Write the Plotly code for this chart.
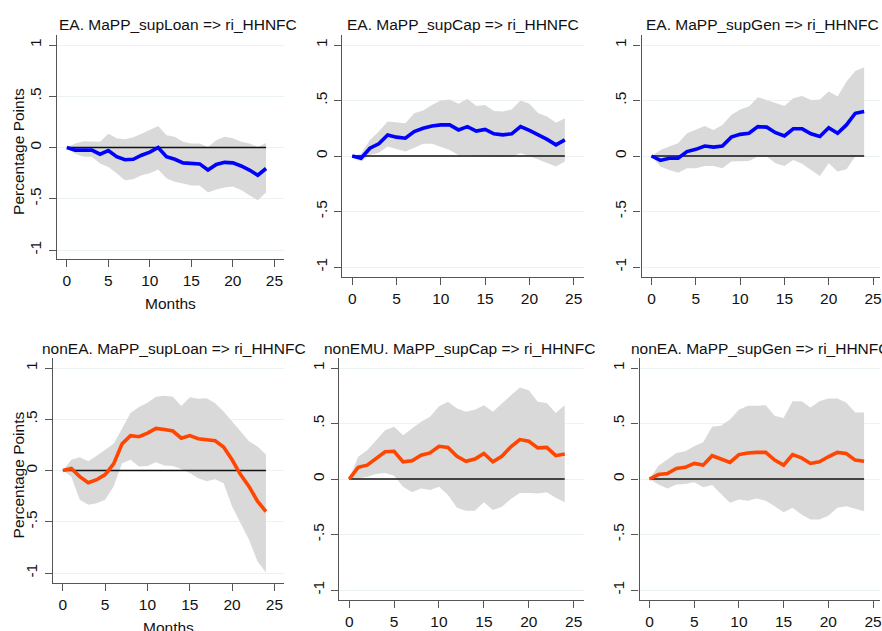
import plotly.graph_objects as go

# ---------------- data ----------------
months = list(range(25))

x_ticks = [0, 5, 10, 15, 20, 25]
y_ticks = [-1, -0.5, 0, 0.5, 1]
y_tick_labels = ["-1", "-.5", "0", ".5", "1"]

titles = [
    "EA. MaPP_supLoan => ri_HHNFC",
    "EA. MaPP_supCap => ri_HHNFC",
    "EA. MaPP_supGen => ri_HHNFC",
    "nonEA. MaPP_supLoan => ri_HHNFC",
    "nonEMU. MaPP_supCap => ri_HHNFC",
    "nonEA. MaPP_supGen => ri_HHNFC",
]

# EA supLoan
ea_loan_irf = [0, -0.026, -0.026, -0.026, -0.065, -0.03, -0.09, -0.12, -0.115, -0.075, -0.045, 0.0,
               -0.09, -0.115, -0.15, -0.155, -0.16, -0.22, -0.165, -0.145, -0.15, -0.18, -0.22, -0.27, -0.205]
ea_loan_hi = [0, 0.04, 0.06, 0.06, 0.055, 0.135, 0.09, 0.08, 0.1, 0.135, 0.17, 0.21,
              0.12, 0.105, 0.055, 0.04, 0.04, 0.005, 0.07, 0.105, 0.09, 0.055, 0.04, 0.005, 0.045]
ea_loan_lo = [0, -0.06, -0.09, -0.09, -0.155, -0.19, -0.25, -0.32, -0.31, -0.27, -0.25, -0.215,
              -0.30, -0.335, -0.35, -0.37, -0.37, -0.44, -0.41, -0.39, -0.38, -0.415, -0.465, -0.515, -0.44]

# EA supCap
ea_cap_irf = [0, -0.02, 0.07, 0.11, 0.19, 0.17, 0.16, 0.22, 0.25, 0.27, 0.28, 0.28,
              0.235, 0.265, 0.225, 0.24, 0.2, 0.19, 0.2, 0.265, 0.23, 0.19, 0.15, 0.1, 0.145]
ea_cap_hi = [0, 0.02, 0.145, 0.22, 0.31, 0.30, 0.295, 0.385, 0.41, 0.46, 0.5, 0.51,
             0.47, 0.515, 0.45, 0.46, 0.405, 0.40, 0.42, 0.5, 0.47, 0.385, 0.355, 0.30, 0.34]
ea_cap_lo = [0, -0.05, 0.01, 0.03, 0.085, 0.06, 0.04, 0.075, 0.11, 0.11, 0.085, 0.055,
             0.01, 0.01, 0.0, -0.005, -0.01, -0.01, -0.005, 0.025, 0.0, -0.03, -0.065, -0.095, -0.05]

# EA supGen
ea_gen_irf = [0, -0.04, -0.02, -0.02, 0.04, 0.06, 0.09, 0.08, 0.09, 0.17, 0.195, 0.205,
              0.265, 0.26, 0.21, 0.18, 0.245, 0.245, 0.2, 0.175, 0.255, 0.205, 0.28, 0.385, 0.40]
ea_gen_hi = [0, 0.055, 0.085, 0.115, 0.205, 0.235, 0.27, 0.235, 0.28, 0.37, 0.42, 0.445,
             0.53, 0.505, 0.475, 0.45, 0.52, 0.54, 0.505, 0.51, 0.58, 0.535, 0.67, 0.765, 0.80]
ea_gen_lo = [0, -0.095, -0.125, -0.15, -0.11, -0.11, -0.09, -0.09, -0.11, -0.05, -0.048, -0.045,
             -0.005, -0.005, -0.065, -0.09, -0.035, -0.07, -0.125, -0.18, -0.065, -0.14, -0.12, -0.005, 0.0]

# nonEA supLoan
nonea_loan_irf = [0, 0.02, -0.06, -0.12, -0.09, -0.04, 0.065, 0.26, 0.34, 0.33, 0.365, 0.41,
                  0.40, 0.385, 0.315, 0.34, 0.31, 0.30, 0.29, 0.23, 0.105, -0.04, -0.155, -0.30, -0.40]
nonea_loan_hi = [0, 0.105, 0.13, 0.09, 0.145, 0.20, 0.26, 0.41, 0.56, 0.62, 0.66, 0.72,
                 0.73, 0.72, 0.63, 0.715, 0.70, 0.705, 0.655, 0.575, 0.48, 0.38, 0.285, 0.235, 0.155]
nonea_loan_lo = [0, -0.06, -0.285, -0.335, -0.32, -0.285, -0.155, 0.07, 0.105, 0.04, 0.045, 0.08,
                 0.05, 0.045, 0.015, -0.025, -0.075, -0.105, -0.085, -0.125, -0.35, -0.51, -0.675, -0.885, -0.995]

# nonEMU supCap
nonemu_cap_irf = [0, 0.105, 0.125, 0.185, 0.245, 0.25, 0.155, 0.165, 0.215, 0.235, 0.295, 0.285,
                  0.205, 0.16, 0.18, 0.23, 0.155, 0.205, 0.29, 0.355, 0.34, 0.28, 0.285, 0.21, 0.225]
nonemu_cap_hi = [0, 0.2, 0.26, 0.35, 0.44, 0.47, 0.395, 0.455, 0.515, 0.56, 0.655, 0.695,
                 0.635, 0.605, 0.625, 0.665, 0.605, 0.68, 0.755, 0.825, 0.80, 0.695, 0.685, 0.595, 0.665]
nonemu_cap_lo = [0, 0.005, 0.02, 0.045, 0.055, 0.03, -0.07, -0.12, -0.085, -0.10, -0.07, -0.145,
                 -0.26, -0.285, -0.285, -0.21, -0.28, -0.25, -0.18, -0.125, -0.125, -0.13, -0.12, -0.17, -0.21]

# nonEA supGen
nonea_gen_irf = [0, 0.04, 0.05, 0.095, 0.105, 0.14, 0.125, 0.21, 0.18, 0.15, 0.22, 0.235,
                 0.24, 0.24, 0.17, 0.125, 0.22, 0.19, 0.14, 0.155, 0.2, 0.24, 0.23, 0.17, 0.16]
nonea_gen_hi = [0, 0.12, 0.175, 0.235, 0.25, 0.295, 0.33, 0.47, 0.48, 0.535, 0.625, 0.66,
                0.66, 0.665, 0.57, 0.55, 0.70, 0.70, 0.645, 0.70, 0.725, 0.725, 0.69, 0.60, 0.60]
nonea_gen_lo = [0, -0.05, -0.085, -0.05, -0.045, -0.03, -0.075, -0.055, -0.135, -0.215, -0.185, -0.195,
                -0.175, -0.195, -0.245, -0.30, -0.26, -0.32, -0.365, -0.365, -0.33, -0.26, -0.245, -0.27, -0.29]

# ---------------- layout / styling ----------------
W, H = 882, 631
BLUE = "#0000ff"
ORANGE = "#ff4500"
BAND = "#d9d9d9"
GRID = "#eaf2f3"
AXIS = "#555555"
FONT = "Liberation Sans, Arial, sans-serif"

series = [
    (ea_loan_irf, ea_loan_lo, ea_loan_hi, BLUE),
    (ea_cap_irf, ea_cap_lo, ea_cap_hi, BLUE),
    (ea_gen_irf, ea_gen_lo, ea_gen_hi, BLUE),
    (nonea_loan_irf, nonea_loan_lo, nonea_loan_hi, ORANGE),
    (nonemu_cap_irf, nonemu_cap_lo, nonemu_cap_hi, ORANGE),
    (nonea_gen_irf, nonea_gen_lo, nonea_gen_hi, ORANGE),
]

# pixel geometry of each panel
geom = [
    dict(xl=57, xr=285, x0=67, x25=275, yb=259, yt=35, y1=45, ym1=250, ty=25, months=True, ylab=True),
    dict(xl=343, xr=585, x0=353, x25=575, yb=277, yt=35, y1=45, ym1=267, ty=25, months=False, ylab=False),
    dict(xl=643, xr=882, x0=653, x25=875, yb=277, yt=35, y1=45, ym1=267, ty=25, months=False, ylab=False),
    dict(xl=53, xr=285, x0=63, x25=275, yb=583, yt=358, y1=368, ym1=573, ty=348, months=True, ylab=True),
    dict(xl=340, xr=585, x0=350, x25=575, yb=600, yt=358, y1=368, ym1=590, ty=348, months=False, ylab=False),
    dict(xl=641, xr=882, x0=651, x25=875, yb=600, yt=358, y1=368, ym1=590, ty=348, months=False, ylab=False),
]

fig = go.Figure()
annotations = []
layout = dict(
    width=W, height=H,
    margin=dict(l=0, r=0, t=0, b=0),
    paper_bgcolor="white", plot_bgcolor="white",
    showlegend=False,
    font=dict(family=FONT, size=15, color="#000000"),
)

for i, ((irf, lo, hi, col), g, title) in enumerate(zip(series, geom, titles)):
    n = i + 1
    xa = "x" if n == 1 else f"x{n}"
    ya = "y" if n == 1 else f"y{n}"

    fig.add_trace(go.Scatter(x=months, y=lo, mode="lines", line=dict(width=0, color=BAND),
                             xaxis=xa, yaxis=ya, hoverinfo="skip"))
    fig.add_trace(go.Scatter(x=months, y=hi, mode="lines", line=dict(width=0, color=BAND),
                             fill="tonexty", fillcolor=BAND, xaxis=xa, yaxis=ya, hoverinfo="skip"))
    fig.add_trace(go.Scatter(x=months, y=[0 for _ in months], mode="lines",
                             line=dict(width=1.3, color="#111111"), xaxis=xa, yaxis=ya, hoverinfo="skip"))
    fig.add_trace(go.Scatter(x=months, y=irf, mode="lines", line=dict(width=3.6, color=col),
                             xaxis=xa, yaxis=ya))

    sx = (g["x25"] - g["x0"]) / 25.0
    xr = [(g["xl"] - g["x0"]) / sx, (g["xr"] - g["x0"]) / sx]
    sy = (g["ym1"] - g["y1"]) / 2.0
    yr = [1 - (g["yb"] - g["y1"]) / sy, 1 - (g["yt"] - g["y1"]) / sy]

    xkey = "xaxis" if n == 1 else f"xaxis{n}"
    ykey = "yaxis" if n == 1 else f"yaxis{n}"
    layout[xkey] = dict(
        domain=[g["xl"] / W, min(g["xr"] / W, 1.0)], anchor=ya,
        range=xr, tickvals=x_ticks, ticks="outside", ticklen=7, tickwidth=1.2, tickcolor=AXIS,
        showline=True, linecolor=AXIS, linewidth=1.4, showgrid=False, zeroline=False,
        tickfont=dict(size=15.5, color="#111111"), fixedrange=True, ticklabelstandoff=0,
        ticklabeloverflow="allow",
    )
    layout[ykey] = dict(
        domain=[1 - g["yb"] / H, 1 - g["yt"] / H], anchor=xa,
        range=yr, tickvals=y_ticks, ticktext=y_tick_labels, tickangle=-90,
        ticks="outside", ticklen=7, tickwidth=1.2, tickcolor=AXIS,
        showline=True, linecolor=AXIS, linewidth=1.4,
        showgrid=True, gridcolor=GRID, gridwidth=1.3, zeroline=False,
        tickfont=dict(size=15.5, color="#111111"), fixedrange=True, ticklabelstandoff=1,
        ticklabeloverflow="allow",
    )

    annotations.append(dict(
        text=title, x=((g["xl"] + g["xl"] + 242) / 2) / W, y=1 - g["ty"] / H,
        xref="paper", yref="paper", xanchor="center", yanchor="middle",
        showarrow=False, font=dict(size=15.5, color="#111111"),
    ))
    if g["months"]:
        annotations.append(dict(
            text="Months", x=((g["xl"] + g["xr"]) / 2) / W, y=1 - (g["yb"] + 44) / H,
            xref="paper", yref="paper", xanchor="center", yanchor="middle",
            showarrow=False, font=dict(size=15.5, color="#111111"),
        ))
    if g["ylab"]:
        annotations.append(dict(
            text="Percentage Points", x=19 / W, y=1 - ((g["yb"] + g["yt"]) / 2 + 4) / H,
            xref="paper", yref="paper", xanchor="center", yanchor="middle", textangle=-90,
            showarrow=False, font=dict(size=15.5, color="#111111"),
        ))

layout["annotations"] = annotations
fig.update_layout(**layout)
fig.write_html(
    "out.html",
    config={"displayModeBar": False},
    post_script="document.body.style.margin='0';document.body.style.padding='0';"
                "document.body.style.overflow='hidden';",
)
